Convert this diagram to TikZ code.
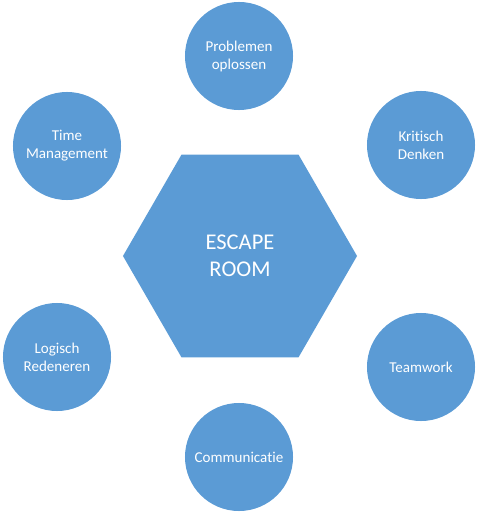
\documentclass[tikz,border=0pt]{standalone}
\usepackage{fontspec}
\setmainfont{Carlito}[Ligatures=NoCommon]
\usepackage{tikz}
\usetikzlibrary{shapes, positioning}
\definecolor{officeblue}{HTML}{5B9BD5}

\begin{document}
\begin{tikzpicture}[
  x=0.025cm, y=-0.025cm,
  skill/.style={circle, fill=officeblue, minimum size=2.7cm, inner sep=0pt, align=center, text=white, font=\fontsize{10.7}{12.8}\selectfont},
  hub/.style={regular polygon, regular polygon sides=6, fill=officeblue, minimum size=5.85cm, inner sep=0pt, align=center, text=white, font=\fontsize{16}{19}\selectfont}
]
  % Canvas
  \useasboundingbox (0, 0) rectangle (480, 519);

  % Central shape
  \node[hub] (escape) at (240, 256) {ESCAPE\\ROOM};

  % Skills
  \node[skill] (problem) at (239, 56) {Problemen\\oplossen};
  \node[skill] (time) at (67, 146) {Time\\Management};
  \node[skill] (critical) at (421, 145) {Kritisch\\Denken};
  \node[skill] (logic) at (57, 357) {Logisch\\Redeneren};
  \node[skill] (team) at (421, 367) {Teamwork};
  \node[skill] (comm) at (239, 457) {Communicatie};

\end{tikzpicture}
\end{document}
